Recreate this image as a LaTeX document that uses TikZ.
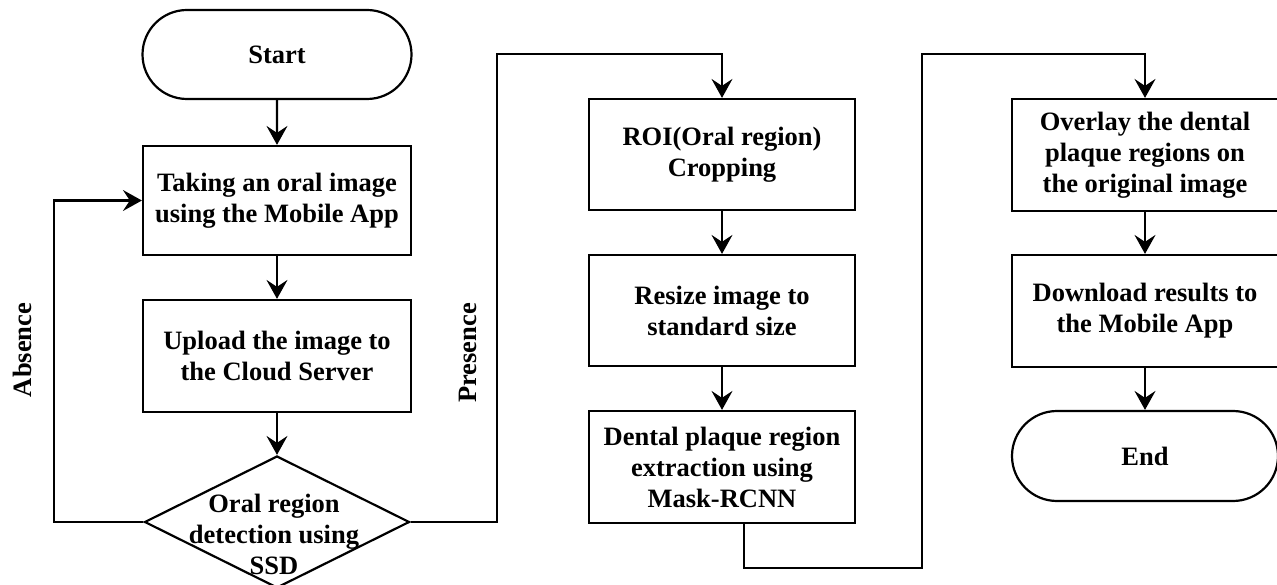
\documentclass[tikz,border=0pt]{standalone}
\usepackage{fontspec}
\setmainfont{Liberation Serif}
\usetikzlibrary{shapes.misc,shapes.geometric,arrows.meta}
\tikzset{
  every picture/.style={x=1pt,y=-1pt},
  txt/.style={font=\fontsize{26.5}{31}\selectfont\bfseries, align=center},
  procbox/.style={txt, draw, line width=2.2pt, rectangle, inner sep=0pt,
                  minimum width=266pt},
  termbox/.style={txt, draw, line width=2.2pt, rounded rectangle, inner sep=0pt},
  arr/.style={line width=2.2pt, -{Stealth[length=19pt,width=21pt,inset=7pt]}},
}
\begin{document}
\begin{tikzpicture}
\clip (0,0) rectangle (1277,585);
\fill[white] (0,0) rectangle (1277,585);

% left column
\node[termbox, minimum width=269pt, minimum height=89pt] (start) at (277,54.5) {Start};
\node[procbox, minimum width=268pt, minimum height=109pt] (take) at (277,200.5)
  {Taking an oral image\\using the Mobile App};
\node[procbox, minimum width=268pt, minimum height=112pt] (upload) at (277,356)
  {Upload the image to\\the Cloud Server};
\node[draw, line width=2.2pt, diamond, inner sep=0pt, minimum width=265pt,
      minimum height=132pt] (detect) at (277,522) {};
\node[txt] (detecttxt) at (274,534) {Oral region\\detection using\\SSD};

% middle column
\node[procbox, minimum height=111pt] (roi) at (722,154.5)
  {ROI(Oral region)\\Cropping};
\node[procbox, minimum height=111pt] (resize) at (722,310.5)
  {Resize image to\\standard size};
\node[procbox, minimum height=112pt] (mask) at (722,467)
  {Dental plaque region\\extraction using\\Mask-RCNN};

% right column
\node[procbox, minimum height=112pt] (overlay) at (1145,155)
  {Overlay the dental\\plaque regions on\\the original image};
\node[procbox, minimum height=112pt] (download) at (1145,311)
  {Download results to\\the Mobile App};
\node[termbox, minimum width=266pt, minimum height=90pt] (end) at (1145,456) {End};

% branch labels
\node[txt, rotate=90] (absence) at (22,350) {Absence};
\node[txt, rotate=90] (presence) at (468,353) {Presence};

% bend points of the long connectors
\coordinate (loopL) at (54,522);
\coordinate (presR) at (497,522);
\coordinate (presT) at (497,54);
\coordinate (maskOut) at (744,523);
\coordinate (maskB) at (744,568);
\coordinate (linkB) at (922,568);
\coordinate (linkT) at (922,54);

% connectors
\draw[arr] (start) -- (take);
\draw[arr] (take) -- (upload);
\draw[arr] (upload) -- (detect.north);
\draw[arr] (detect.west) -- (loopL) |- (take.west);
\draw[arr] (detect.east) -- (presR) -- (presT) -| (roi.north);
\draw[arr] (roi) -- (resize);
\draw[arr] (resize) -- (mask);
\draw[arr] (maskOut) -- (maskB) -- (linkB) -- (linkT) -| (overlay.north);
\draw[arr] (overlay) -- (download);
\draw[arr] (download) -- (end);
\end{tikzpicture}
\end{document}
